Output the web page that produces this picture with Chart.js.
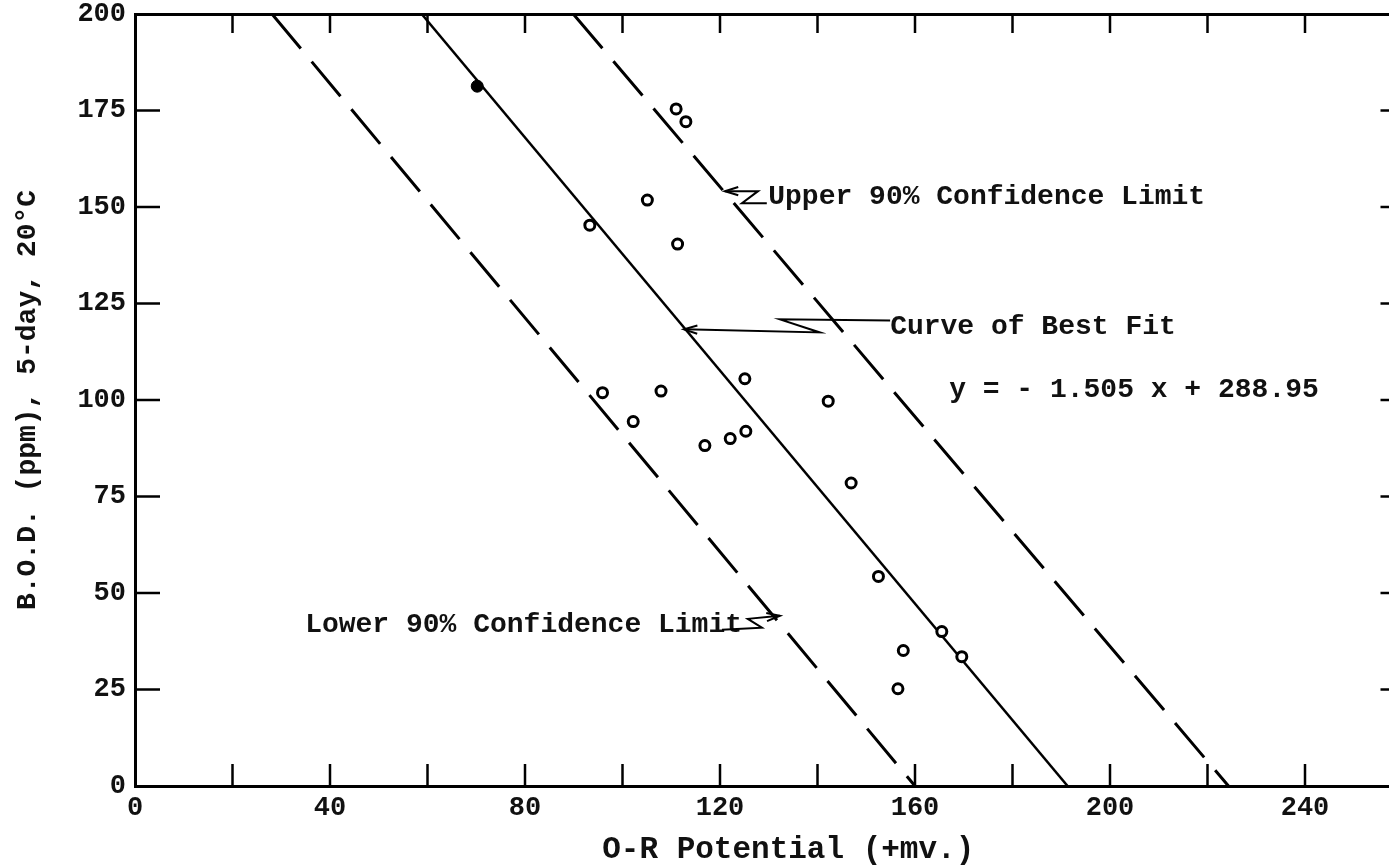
<!DOCTYPE html>
<html><head><meta charset="utf-8">
<script src="https://cdn.jsdelivr.net/npm/chart.js@4.4.1/dist/chart.umd.min.js"></script>
<style>
html,body{margin:0;padding:0;background:#fff;overflow:hidden;}
#wrap{width:1389px;height:868px;overflow:hidden;position:relative;background:#fff;}
canvas{display:block;}
</style></head><body>
<div id="wrap"><canvas id="c" width="1420" height="868"></canvas></div>
<script>
// ---- data ----
const xLabelTicks = [0, 40, 80, 120, 160, 200, 240];
const yLabelTicks = [0, 25, 50, 75, 100, 125, 150, 175, 200];
const openX = [111.0, 113.0, 105.1, 93.3, 111.3, 125.1, 95.9, 107.9, 102.2, 142.2, 116.9, 122.1, 125.3, 146.9, 152.5, 165.5, 169.6, 157.6, 156.5];
const openY = [175.4, 172.1, 151.8, 145.3, 140.4, 105.5, 101.9, 102.3, 94.4, 99.7, 88.2, 90.0, 91.9, 78.5, 54.3, 40.0, 33.5, 35.1, 25.2];
const solidX = [70.2];
const solidY = [181.3];
const fitX = [58.8, 191.3];
const fitY = [200, 0];
const lowerX = [28.1, 160.0];
const lowerY = [200, 0];
const upperX = [89.9, 224.3];
const upperY = [200, 0];
const xTitle = 'O-R Potential (+mv.)';
const yTitle = 'B.O.D. (ppm), 5-day, 20°C';
const noteTexts = ['Upper 90% Confidence Limit', 'Curve of Best Fit', 'y = - 1.505 x + 288.95', 'Lower 90% Confidence Limit'];

// ---- annotation anchors (data units) ----
const noteAnchors = [[129.9, 152.5], [154.9, 118.8], [167.0, 102.7], [34.9, 41.8]];
const xTitleCenter = 134;
const arrowPaths = [
  [[129.6, 151.0], [124.5, 151.0], [127.8, 154.1], [121.0, 154.1]],
  [[154.9, 120.6], [132.3, 120.9], [140.5, 117.5], [112.6, 118.3]],
  [[120.4, 40.5], [128.6, 41.0], [125.7, 43.3], [132.3, 44.1]]
];

const FONT = "'Liberation Mono', 'Courier New', monospace";
const pts = (xs, ys) => xs.map((x, i) => ({x, y: ys[i]}));

const inwardTicks = {
  id: 'inwardTicks',
  afterDraw(chart) {
    const {ctx, chartArea: a, scales: s} = chart;
    ctx.save();
    ctx.strokeStyle = '#000';
    ctx.lineWidth = 2.5;
    const line = (x1, y1, x2, y2) => { ctx.beginPath(); ctx.moveTo(x1, y1); ctx.lineTo(x2, y2); ctx.stroke(); };
    s.x.ticks.forEach(t => { if (t.value <= s.x.min || t.value >= s.x.max) return; const p = s.x.getPixelForValue(t.value); line(p, a.bottom, p, a.bottom - 22); });
    s.x2.ticks.forEach(t => { if (t.value <= s.x2.min || t.value >= s.x2.max) return; const p = s.x2.getPixelForValue(t.value); line(p, a.top, p, a.top + 19); });
    s.y.ticks.forEach(t => { if (t.value <= s.y.min || t.value >= s.y.max) return; const p = s.y.getPixelForValue(t.value); line(a.left, p, a.left + 25, p); });
    s.y2.ticks.forEach(t => { if (t.value <= s.y2.min || t.value >= s.y2.max) return; const p = s.y2.getPixelForValue(t.value); line(a.right, p, a.right - 22, p); });
    ctx.restore();
  }
};

const notesPlugin = {
  id: 'notes',
  afterDatasetsDraw(chart) {
    const {ctx, scales: s} = chart;
    const X = v => s.x.getPixelForValue(v), Y = v => s.y.getPixelForValue(v);
    ctx.save();
    ctx.fillStyle = '#111';
    ctx.font = 'bold 28px ' + FONT;
    ctx.textAlign = 'left';
    ctx.textBaseline = 'middle';
    noteTexts.forEach((t, i) => ctx.fillText(t, X(noteAnchors[i][0]), Y(noteAnchors[i][1])));
    // x axis title, centred a little right of the plot centre as in the reference
    ctx.font = 'bold 31px ' + FONT;
    ctx.textAlign = 'center';
    ctx.fillText(xTitle, X(xTitleCenter), s.x.bottom - 18);
    ctx.strokeStyle = '#000';
    ctx.lineWidth = 2;
    arrowPaths.forEach(p => {
      ctx.beginPath();
      p.forEach((q, i) => { const px = X(q[0]), py = Y(q[1]); if (i) ctx.lineTo(px, py); else ctx.moveTo(px, py); });
      ctx.stroke();
      const n = p.length;
      const ex = X(p[n - 1][0]), ey = Y(p[n - 1][1]);
      const sx = X(p[n - 2][0]), sy = Y(p[n - 2][1]);
      const ang = Math.atan2(ey - sy, ex - sx);
      const L = 14, w = 0.3;
      ctx.beginPath();
      ctx.moveTo(ex - L * Math.cos(ang - w), ey - L * Math.sin(ang - w));
      ctx.lineTo(ex, ey);
      ctx.lineTo(ex - L * Math.cos(ang + w), ey - L * Math.sin(ang + w));
      ctx.stroke();
    });
    ctx.restore();
  }
};

const axisCommon = {
  type: 'linear',
  grid: {display: true, drawOnChartArea: false, drawTicks: false},
  border: {display: true, color: '#000', width: 3}
};
const noPad = s => { s.paddingTop = 0; s.paddingBottom = 0; s.paddingLeft = 0; s.paddingRight = 0; };

new Chart(document.getElementById('c'), {
  type: 'scatter',
  data: {
    datasets: [
      {data: pts(solidX, solidY), pointRadius: 6, pointBackgroundColor: '#000', pointBorderColor: '#000', pointBorderWidth: 1, showLine: false},
      {data: pts(openX, openY), pointRadius: 5, pointBackgroundColor: '#fff', pointBorderColor: '#000', pointBorderWidth: 3, showLine: false},
      {type: 'line', data: pts(fitX, fitY), borderColor: '#000', borderWidth: 2.5, pointRadius: 0, fill: false},
      {type: 'line', data: pts(lowerX, lowerY), borderColor: '#000', borderWidth: 3, borderDash: [45, 17], pointRadius: 0, fill: false},
      {type: 'line', data: pts(upperX, upperY), borderColor: '#000', borderWidth: 3, borderDash: [45, 17], pointRadius: 0, fill: false}
    ]
  },
  options: {
    responsive: false,
    animation: false,
    devicePixelRatio: 1,
    layout: {padding: 0},
    plugins: {legend: {display: false}, tooltip: {enabled: false}},
    scales: {
      x: {...axisCommon, position: 'bottom', min: 0, max: 260,
        ticks: {stepSize: 20, autoSkip: false, maxRotation: 0, padding: 6, color: '#111',
          font: {family: FONT, size: 27, weight: 'bold'},
          callback: v => xLabelTicks.includes(v) ? String(v) : ''},
        title: {display: false, text: xTitle},
        afterFit: s => { noPad(s); s.height = 82; }},
      x2: {...axisCommon, position: 'top', min: 0, max: 260,
        ticks: {display: false, stepSize: 20},
        afterFit: s => { noPad(s); s.height = 14; }},
      y: {...axisCommon, position: 'left', min: 0, max: 200,
        ticks: {stepSize: 25, padding: 9, color: '#111',
          font: {family: FONT, size: 27, weight: 'bold'},
          callback: v => yLabelTicks.includes(v) ? String(v) : ''},
        title: {display: true, text: yTitle, color: '#111', font: {family: FONT, size: 28, weight: 'bold'}, padding: {top: 11, bottom: 0}},
        afterFit: s => { noPad(s); s.width = 135; }},
      y2: {...axisCommon, position: 'right', min: 0, max: 200,
        ticks: {display: false, stepSize: 25},
        afterFit: s => { noPad(s); s.width = 17.5; }}
    }
  },
  plugins: [inwardTicks, notesPlugin]
});
</script>
</body></html>
